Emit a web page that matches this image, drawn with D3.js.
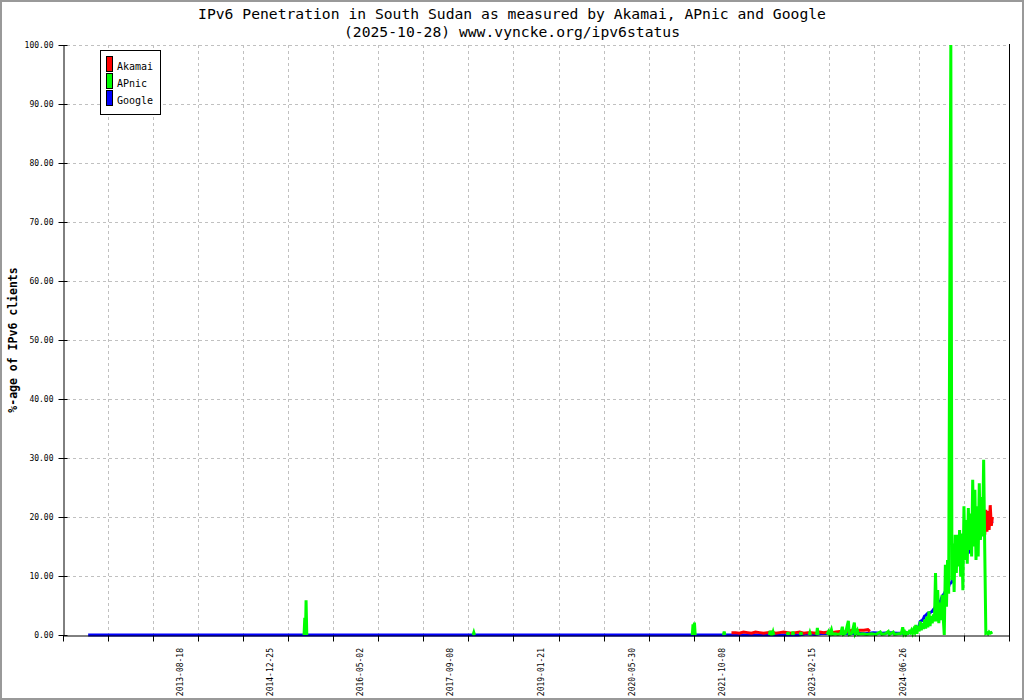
<!DOCTYPE html>
<html><head><meta charset="utf-8">
<script src="https://cdn.jsdelivr.net/npm/d3@7"></script>
<style>body{margin:0;background:#fff} svg{display:block}</style>
</head><body><svg id="c" width="1024" height="700"></svg>
<script>
// ---------------- DATA ----------------
const titleLines = ["IPv6 Penetration in South Sudan as measured by Akamai, APnic and Google",
                    "(2025-10-28) www.vyncke.org/ipv6status"];
const yLabel = "%-age of IPv6 clients";
const seriesNames = ["Akamai", "APnic", "Google"];
const seriesColors = ["#ff0000", "#00ff00", "#0000ff"];
const yTickValues = [0, 10, 20, 30, 40, 50, 60, 70, 80, 90, 100];
const xLabelDates = ["2013-08-18", "2014-12-25", "2016-05-02", "2017-09-08", "2019-01-21",
                     "2020-05-30", "2021-10-08", "2023-02-15", "2024-06-26"];
const xTickCount = 21;

// Dense recent period: one value every 6 days from this date
const recentStart = "2024-06-12";
const recentStepDays = 6;

const akamaiSparse = [
  ["2021-11-28",0.4],["2021-12-20",0.4],["2022-01-11",0.3],["2022-02-02",0.5],["2022-02-24",0.4],
  ["2022-03-18",0.3],["2022-04-09",0.5],["2022-05-01",0.4],["2022-05-23",0.3],["2022-06-14",0.4],
  ["2022-07-06",0.5],["2022-07-28",0.3],["2022-08-19",0.4],["2022-09-10",0.5],["2022-10-02",0.4],
  ["2022-10-24",0.3],["2022-11-15",0.4],["2022-12-07",0.5],["2022-12-29",0.3],["2023-01-20",0.4],
  ["2023-02-11",0.4],["2023-03-05",0.3],["2023-03-27",0.5],["2023-04-18",0.4],["2023-05-10",0.5],
  ["2023-06-01",0.4],["2023-06-23",0.5],["2023-07-15",0.6],["2023-08-06",0.5],["2023-08-28",0.6],
  ["2023-09-19",0.8],["2023-10-11",0.7],["2023-11-02",0.8],["2023-11-24",0.8],["2023-12-16",0.9],
  ["2023-12-27",0.6], null
];
const akamaiRecentFrom = 75; // index in the recent grid
const akamaiRecent = [18.4,20.5,17.0,21.2,17.5,21.0,17.8,22.0,18.5,20.0];

const apnicSparse = [
  ["2015-06-29",0],["2015-07-03",2.9],["2015-07-07",0.5],["2015-07-10",5.9],["2015-07-14",0], null,
  ["2018-01-11",0],["2018-01-15",0.4],["2018-01-19",0], null,
  ["2021-04-27",0],["2021-05-01",1.8],["2021-05-05",0.3],["2021-05-09",2.1],["2021-05-13",0], null,
  ["2021-10-15",0],["2021-10-19",0.6],["2021-10-23",0], null,
  ["2022-06-24",0],["2022-06-28",0.7],["2022-07-03",0.1],["2022-07-10",0.1],["2022-07-14",0.5],["2022-07-18",0], null,
  ["2022-09-30",0],["2022-10-04",0.5],["2022-10-08",0], null,
  ["2022-10-27",0],["2022-10-31",0.6],["2022-11-04",0], null,
  ["2022-12-10",0],["2022-12-14",0.5],["2022-12-18",0], null,
  ["2023-01-28",0],["2023-02-01",0.4],["2023-02-05",0], null,
  ["2023-03-10",0],["2023-03-14",1.2],["2023-03-18",0], null,
  ["2023-05-05",0.1],["2023-05-14",0.6],["2023-05-20",0.1],["2023-05-30",0.9],["2023-06-05",0.1],
  ["2023-06-20",0.2],["2023-07-05",0.1],["2023-07-20",0.2],["2023-07-29",1.4],["2023-08-04",0.1],
  ["2023-08-15",0.3],["2023-08-31",2.4],["2023-09-05",0.1],["2023-09-20",0.3],["2023-10-03",2.1],
  ["2023-10-08",0.2],["2023-10-19",0.8],["2023-10-25",0.1],["2023-11-15",0.2],["2023-12-10",0.1],
  ["2024-01-05",0.2],["2024-01-30",0.1],["2024-02-22",0.5],["2024-03-01",0.1],["2024-03-20",0.2],
  ["2024-04-06",0.6],["2024-04-12",0.1],["2024-05-03",0.5],["2024-05-10",0.1],["2024-06-01",0.2]
];
const apnicRecent = [
  0.2,0.4,1.3,0.2,0.5,0.1,0.4,0.3,0.6,0.4,
  0.8,0.3,0.9,0.5,1.7,0.2,1.5,0.6,2.3,0.8,
  2.0,1.0,2.6,1.1,3.1,1.3,4.0,1.5,3.2,2.0,
  3.5,2.3,10.5,2.3,7.6,2.0,5.5,2.5,6.8,3.0,
  0.0,11.9,4.8,12.7,7.0,55.5,100,9.3,15.5,7.3,
  17.0,10.5,17.0,11.6,17.8,9.9,17.2,7.6,21.8,12.7,
  19.5,12.1,21.5,14.4,20.6,13.3,26.3,15.0,24.6,12.7,
  21.8,13.3,25.7,16.1,23.4,16.7,29.7,14.4,0.3,0.4,
  0.2,0.5,0.3,0.4,0.5
];

const googleSparse = [
  ["2012-04-01",0],["2022-12-01",0],["2023-01-15",0.2],["2023-03-01",0.1],["2023-04-15",0.3],
  ["2023-06-01",0.2],["2023-07-15",0.3],["2023-09-01",0.2],["2023-10-15",0.3],["2023-12-01",0.2],
  ["2024-01-15",0.4],["2024-03-01",0.3],["2024-04-15",0.4],["2024-05-25",0.3]
];
const googleRecent = [
  0.3,0.4,0.3,0.4,0.3,0.4,0.3,0.3,0.4,0.4,
  0.5,0.5,0.6,0.7,0.8,1.0,1.1,1.6,2.3,2.4,
  2.5,2.8,3.2,3.3,3.5,3.7,3.7,3.8,3.9,4.0,
  4.3,4.5,4.8,4.9,5.2,5.6,5.6,6.0,6.5,6.8,
  7.0,7.4,7.6,8.0,8.2,8.8,8.8,9.0,10.5,11.0,
  11.9,12.5,13.0,13.3,13.8,14.4,14.6,15.0,15.8,16.7,
  15.2,14.5,13.8,15.0,15.8,17.0,17.8,19.2,19.5,18.5,
  17.8,17.5,16.9,16.4,18.0,19.8,20.0,19.5,19.8,19.2,
  19.3,19.5,19.2,19.0,19.3
];

// ---------------- CHART ----------------
const parse = d3.utcParse("%Y-%m-%d");
const svg = d3.select("#c");
const mono = "'DejaVu Sans Mono', 'Liberation Mono', monospace";

const x = d3.scaleUtc().domain([parse("2011-11-15"), parse("2026-01-28")]).range([63, 1009]);
const y = d3.scaleLinear().domain([0, 100]).range([635, 45]);
const xi = d3.scaleLinear().domain([0, xTickCount]).range([63, 1009]);

const recentDates = apnicRecent.map((_, i) => d3.utcDay.offset(parse(recentStart), i * recentStepDays));

function build(sparse, recent, from) {
  const pts = sparse.map(d => d ? [parse(d[0]), d[1]] : null);
  recent.forEach((v, i) => pts.push([recentDates[from + i], v]));
  return pts;
}
const akamai = build(akamaiSparse, akamaiRecent, akamaiRecentFrom);
const apnic = build(apnicSparse, apnicRecent, 0);
const google = build(googleSparse, googleRecent, 0);

svg.append("rect").attr("width", 1024).attr("height", 700).attr("fill", "#fff");

// grid
const grid = svg.append("g").attr("stroke", "#c0c0c0").attr("stroke-dasharray", "3,3").attr("stroke-width", 1)
  .attr("shape-rendering", "crispEdges");
grid.selectAll(".hg").data(yTickValues.filter(v => v > 0)).join("line")
  .attr("x1", 67).attr("x2", 1009)
  .attr("y1", d => Math.round(y(d)) + 0.5).attr("y2", d => Math.round(y(d)) + 0.5);
grid.selectAll(".vg").data(d3.range(1, xTickCount)).join("line")
  .attr("x1", d => Math.round(xi(d)) + 0.5).attr("x2", d => Math.round(xi(d)) + 0.5)
  .attr("y1", 45).attr("y2", 635);

// series lines (Google, Akamai, APnic on top)
const line = d3.line().defined(d => d && d[1] != null).x(d => x(d[0])).y(d => y(d[1]));
const plot = svg.append("g");
[[google, 2], [akamai, 0], [apnic, 1]].forEach(([data, ci]) => {
  plot.append("path").attr("d", line(data)).attr("fill", "none")
    .attr("stroke", seriesColors[ci]).attr("stroke-width", 3);
});

// axes
const yAxis = svg.append("g").attr("transform", "translate(63.5,0)")
  .call(d3.axisLeft(y).tickValues(yTickValues).tickFormat(d3.format(".2f"))
    .tickSizeInner(5).tickSizeOuter(0).tickPadding(5));
yAxis.selectAll(".tick line").attr("x1", 4);
yAxis.selectAll("text").attr("font-family", mono).attr("font-size", "8px").attr("fill", "#000");
yAxis.select(".domain").attr("stroke", "#000");
yAxis.selectAll(".tick").attr("transform", d => `translate(0,${Math.round(y(d)) + 0.5})`);

const xAxis = svg.append("g").attr("transform", "translate(0,635.5)")
  .call(d3.axisBottom(xi).tickValues(d3.range(0, xTickCount + 1)).tickFormat("")
    .tickSizeInner(6).tickSizeOuter(0));
xAxis.select(".domain").attr("stroke", "#000");
xAxis.selectAll(".tick").attr("transform", d => `translate(${Math.round(xi(d)) + 0.5},0)`);

// right border line
svg.append("line").attr("x1", 1009.5).attr("x2", 1009.5).attr("y1", 44).attr("y2", 636)
  .attr("stroke", "#000");

// x labels (rotated)
svg.append("g").selectAll("text").data(xLabelDates).join("text")
  .attr("transform", d => `translate(${x(parse(d))},648) rotate(-90)`)
  .attr("text-anchor", "end").attr("dy", "0.35em")
  .attr("font-family", mono).attr("font-size", "8px").attr("fill", "#000")
  .text(d => d);

// titles
svg.append("g").selectAll("text").data(titleLines).join("text")
  .attr("x", 512).attr("y", (d, i) => i === 0 ? 19 : 37)
  .attr("text-anchor", "middle").attr("font-family", mono).attr("font-size", "14.7px")
  .attr("fill", "#000").text(d => d);

svg.append("text").attr("transform", "translate(13,340) rotate(-90)")
  .attr("text-anchor", "middle").attr("dy", "0.35em")
  .attr("font-family", mono).attr("font-size", "11.5px").attr("font-weight", "bold")
  .text(yLabel);

// legend
const lg = svg.append("g");
lg.append("rect").attr("x", 100.5).attr("y", 50.5).attr("width", 60).attr("height", 64)
  .attr("fill", "#fff").attr("stroke", "#000");
seriesNames.forEach((n, i) => {
  lg.append("rect").attr("x", 106.5).attr("y", 56.5 + i * 17).attr("width", 6).attr("height", 15)
    .attr("fill", seriesColors[i]).attr("stroke", "#000");
  lg.append("text").attr("x", 117).attr("y", 70 + i * 16.8)
    .attr("font-family", mono).attr("font-size", "10px").attr("fill", "#000").text(n);
});

// outer frame
svg.append("rect").attr("x", 1).attr("y", 1).attr("width", 1022).attr("height", 698)
  .attr("fill", "none").attr("stroke", "#999").attr("stroke-width", 2);
</script></body></html>
